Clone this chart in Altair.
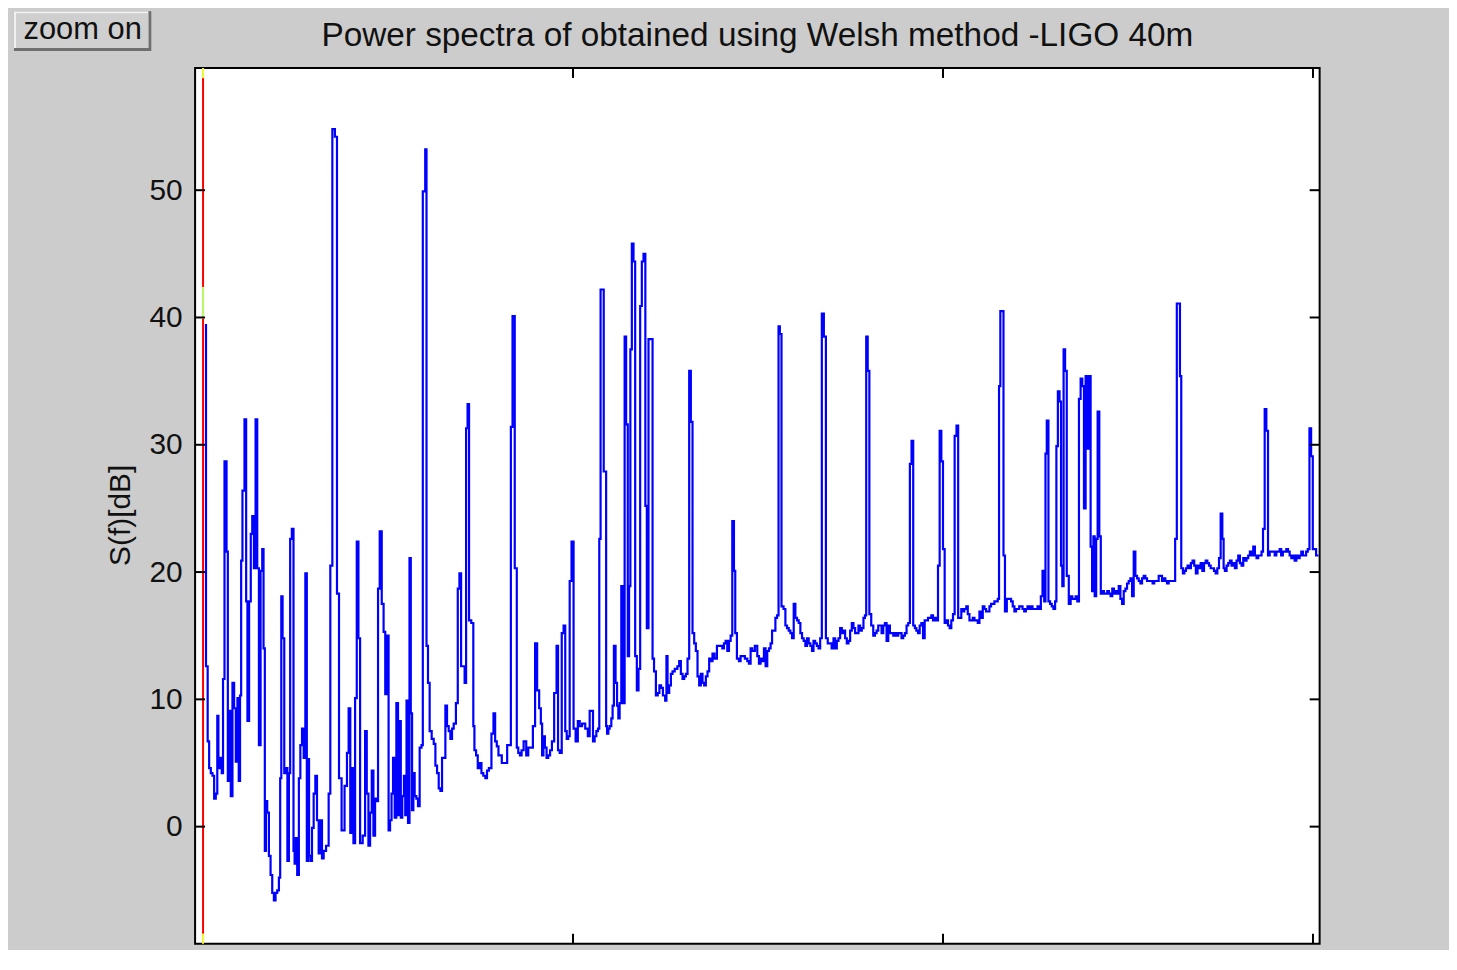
import altair as alt
import pandas as pd

# ---- data (frequency axis in Hz-like units, level in dB) ----
freq = [
    5, 11, 14, 19, 23, 28, 32, 37, 40, 43, 48, 53, 55, 61, 66, 68, 73, 77, 82, 86,
    91, 95, 98, 102, 104, 109, 115, 118, 122, 127, 131, 135, 140, 144, 149, 153, 158, 162, 165, 169,
    171, 176, 180, 185, 189, 194, 198, 203, 207, 210, 213, 217, 222, 226, 230, 234, 237, 243, 246, 249,
    252, 257, 261, 265, 270, 274, 279, 282, 285, 288, 292, 297, 301, 306, 310, 315, 319, 324, 328, 337,
    342, 346, 353, 360, 364, 371, 378, 387, 391, 396, 400, 404, 409, 413, 418, 422, 427, 436, 440, 445,
    449, 454, 458, 463, 467, 472, 474, 481, 485, 491, 494,
    500, 503, 508, 511, 516, 520, 525, 529, 533, 536, 541, 545, 548, 552, 556, 560, 563, 567, 570, 574,
    579, 583, 588, 593, 595, 599, 602, 606, 610, 615, 621, 626, 630, 635, 639, 644, 648, 653, 657, 662,
    666, 671, 675, 680, 687, 690, 696, 699, 705, 709, 713, 717, 721, 729, 732, 735, 741, 744, 750, 755,
    760, 766, 769, 776, 783, 787, 792, 796, 801, 805, 810, 814, 819, 825, 830, 834, 839, 846, 850, 854,
    859, 863, 870, 877, 881, 888, 895, 900, 906, 911, 915, 918, 922, 926, 931, 935, 941, 945, 953, 958,
    961, 967, 972, 977, 981, 985, 989, 993, 999, 1004, 1010, 1016, 1020, 1029, 1037,
    1043, 1047, 1052, 1056, 1061, 1065, 1070, 1072, 1077, 1081, 1085, 1089, 1090, 1094, 1097, 1101, 1106, 1108, 1113, 1117,
    1121, 1124, 1128, 1133, 1138, 1141, 1146, 1150, 1153, 1157, 1161, 1166, 1170, 1175, 1179, 1184, 1188, 1193, 1198, 1201,
    1207, 1213, 1217, 1221, 1227, 1231, 1236, 1240, 1246, 1252, 1253, 1258, 1262, 1267, 1271, 1279, 1285, 1289, 1294, 1298,
    1303, 1307, 1312, 1316, 1321, 1325, 1330, 1334, 1339, 1343, 1348, 1352, 1357, 1361, 1366, 1370, 1375, 1379, 1386, 1392,
    1397, 1401, 1406, 1410, 1415, 1419, 1424, 1428, 1433, 1437, 1440, 1446, 1451, 1455, 1460, 1469, 1473, 1478, 1482, 1487,
    1496, 1500, 1505, 1509, 1514, 1518, 1523, 1527, 1532, 1536, 1540, 1545,
    1549, 1554, 1557, 1561, 1566, 1572, 1576, 1581, 1585, 1590, 1594, 1599, 1603, 1608, 1612, 1617, 1621, 1626, 1630, 1635,
    1639, 1644, 1648, 1652, 1657, 1661, 1666, 1670, 1675, 1681, 1686, 1691, 1696, 1702, 1706, 1711, 1715, 1720, 1724, 1729,
    1733, 1738, 1742, 1747, 1751, 1756, 1760, 1765, 1769, 1774, 1778, 1783, 1787, 1791, 1794, 1799, 1803, 1809, 1814, 1818,
    1823, 1827, 1832, 1836, 1841, 1845, 1850, 1854, 1859, 1863, 1868, 1872, 1877, 1881, 1886, 1890, 1895, 1899, 1904, 1908,
    1913, 1917, 1922, 1926, 1930, 1935, 1939, 1944, 1948, 1953, 1957, 1962, 1966, 1971, 1975, 1980, 1984, 1989, 1993, 1998,
    2002, 2007, 2011, 2016, 2020, 2025, 2029, 2034, 2039, 2043, 2047, 2052, 2056, 2059,
    2061, 2065, 2069, 2074, 2078, 2083, 2087, 2092, 2096, 2101, 2105, 2110, 2114, 2119, 2123, 2128, 2132, 2137, 2141, 2146,
    2150, 2153, 2157, 2162, 2165, 2170, 2175, 2182, 2186, 2191, 2195, 2200, 2204, 2208, 2213, 2217, 2222, 2226, 2231, 2235,
    2240, 2244, 2249, 2253, 2258, 2262, 2267, 2271, 2276, 2278, 2283, 2287, 2292, 2296, 2301, 2305, 2308, 2313, 2317, 2321,
    2324, 2328, 2332, 2337, 2343, 2347, 2352, 2356, 2361, 2365, 2370, 2374, 2379, 2383, 2388, 2392, 2397, 2401, 2405, 2408,
    2412, 2416, 2420, 2425, 2428, 2433, 2437, 2442, 2446, 2451, 2455, 2460, 2464, 2469, 2473, 2477, 2482, 2486, 2491, 2495,
    2500, 2504, 2509, 2513, 2518, 2522, 2527, 2531, 2536, 2540, 2545, 2549, 2554, 2563, 2570,
    2572, 2576, 2581, 2585, 2590, 2594, 2599, 2603, 2608, 2612, 2616, 2621, 2625, 2630, 2634, 2639, 2642, 2646, 2651, 2654,
    2659, 2663, 2668, 2672, 2677, 2681, 2686, 2690, 2694, 2699, 2703, 2708, 2712, 2717, 2721, 2726, 2730, 2735, 2739, 2744,
    2748, 2753, 2757, 2760, 2764, 2769, 2773, 2778, 2782, 2787, 2791, 2796, 2800, 2805, 2809, 2814, 2818, 2823, 2827, 2832,
    2836, 2841, 2845, 2850, 2854, 2859, 2863, 2867, 2872, 2876, 2881, 2885, 2890, 2894, 2899, 2903, 2908, 2912, 2916, 2921,
    2926, 2930, 2935, 2939, 2944, 2948, 2953, 2957, 2962, 2966, 2971, 2975, 2979, 2984, 2988, 2993, 2997, 3002, 3006, 3011,
    3015,
]

sdb = [
    39.4, 12.6, 6.7, 4.6, 4.2, 4.0, 2.2, 2.6, 8.7, 4.6, 5.4, 4.2, 11.6, 28.7, 21.6, 3.6, 9.1, 2.4, 11.3, 9.3,
    5.1, 10.1, 3.6, 10.3, 20.9, 26.4, 32.0, 17.7, 8.3, 17.7, 23.0, 24.4, 20.3, 32.0, 20.3, 6.4, 20.1, 21.8, 14.0, -1.9,
    2.0, 1.1, -2.3, -3.8, -5.2, -5.8, -5.2, -5.0, -4.0, 3.8, 18.1, 14.8, 4.2, 4.6, -2.7, 4.2, 22.6, 23.4, -1.9, -2.9,
    -0.9, -3.8, 3.8, 6.4, 7.7, 5.4, 19.9, -2.7, 5.3, -2.3, -2.7, -0.1, 2.6, 4.0, 0.5, -2.1, 0.5, -2.5, -1.9, -1.5,
    2.6, 20.5, 54.8, 54.2, 18.3, 3.8, -0.3, 3.2, 5.8, 9.3, -0.5, 4.6, -1.3, 10.1, 22.4, 14.8, -1.3, -0.7, 7.5, 2.6,
    -1.5, 1.1, 4.4, -0.7, 2.2, 2.0, 18.7, 23.2, 17.5, 15.3, 10.4,
    15.0, -0.3, 0.5, 2.6, 5.4, 0.7, 9.7, 0.9, 8.3, 0.7, 2.4, 4.0, 0.9, 9.9, 0.3, 21.1, 8.9, 1.3, 4.2, 2.4,
    2.2, 1.6, 6.2, 6.4, 49.9, 49.9, 53.2, 14.2, 11.3, 7.5, 6.9, 6.5, 4.8, 4.2, 3.0, 2.8, 5.4, 5.4, 9.5, 7.9,
    7.5, 6.9, 7.7, 8.1, 9.7, 18.7, 19.9, 12.6, 12.6, 11.3, 31.3, 33.2, 16.2, 16.0, 7.9, 6.0, 5.6, 4.6, 5.0, 4.2,
    4.0, 3.8, 4.4, 4.6, 7.3, 8.9, 6.7, 6.3, 5.6, 5.6, 5.0, 5.0, 5.0, 6.4, 6.4, 31.4, 40.1, 20.3, 6.2, 5.8,
    5.6, 6.0, 6.7, 5.6, 6.2, 6.2, 7.9, 14.4, 10.7, 9.3, 8.1, 5.6, 7.1, 6.2, 5.4, 5.6, 6.0, 6.7, 10.5, 14.2,
    6.0, 5.8, 15.2, 15.8, 7.5, 6.9, 7.1, 19.3, 22.4, 7.7, 6.7, 8.3, 7.9, 8.1, 7.7,
    7.1, 9.1, 9.1, 6.7, 7.1, 7.5, 7.7, 22.6, 42.2, 42.2, 27.9, 27.9, 7.9, 7.3, 7.7, 7.9, 8.5, 9.5, 14.2, 11.3,
    9.5, 8.5, 9.7, 18.9, 9.7, 38.5, 31.6, 13.4, 18.9, 37.5, 45.8, 44.4, 13.4, 10.7, 12.4, 40.9, 44.4, 45.0, 25.2, 15.6,
    38.3, 38.3, 13.2, 12.2, 10.3, 10.5, 11.1, 10.9, 10.3, 9.9, 13.4, 10.5, 11.1, 12.0, 12.2, 12.4, 12.6, 13.0, 12.0, 11.6,
    11.8, 12.0, 13.2, 35.8, 31.8, 15.2, 14.4, 13.8, 11.8, 11.1, 12.0, 11.3, 11.1, 11.8, 12.2, 13.2, 13.0, 13.6, 13.2, 14.2,
    14.2, 14.2, 14.0, 14.4, 14.6, 13.8, 14.6, 15.0, 24.0, 20.1, 15.2, 13.2, 13.0, 13.4, 13.4, 13.2, 13.0, 12.8, 14.0, 13.8,
    14.2, 13.4, 12.8, 13.2, 13.0, 14.0, 12.6, 13.8, 14.0, 14.4, 15.4, 15.4,
    16.4, 16.6, 39.3, 38.7, 17.3, 17.1, 15.8, 15.6, 15.4, 15.2, 14.8, 17.5, 16.4, 16.2, 16.0, 15.2, 14.8, 14.6, 14.2, 14.8,
    14.4, 14.2, 13.8, 14.6, 14.4, 14.2, 14.0, 14.8, 40.3, 38.5, 14.8, 14.4, 14.4, 14.0, 14.8, 14.0, 14.6, 14.8, 15.6, 15.2,
    15.4, 14.8, 14.4, 14.6, 15.4, 16.0, 15.6, 15.2, 15.2, 15.8, 15.4, 15.6, 16.4, 16.6, 38.5, 35.8, 16.7, 15.8, 15.0, 15.2,
    15.4, 15.8, 15.8, 15.2, 15.8, 16.0, 14.6, 15.8, 15.2, 15.2, 15.0, 15.2, 15.0, 15.2, 15.2, 14.8, 15.0, 15.2, 15.8, 16.0,
    28.5, 30.3, 15.8, 15.6, 15.4, 15.2, 15.8, 16.0, 14.8, 16.2, 16.2, 16.4, 16.4, 16.6, 16.2, 16.4, 16.2, 20.5, 31.1, 28.7,
    21.8, 16.0, 16.2, 15.8, 15.6, 16.2, 16.7, 30.7, 31.5, 16.4, 16.4, 17.1, 16.9, 17.1,
    17.1, 17.3, 16.7, 16.2, 16.2, 16.4, 16.2, 16.2, 16.0, 16.9, 16.4, 17.3, 17.1, 16.9, 16.9, 17.3, 17.5, 17.5, 17.7, 17.7,
    17.9, 34.6, 40.5, 40.5, 21.3, 16.9, 17.9, 17.9, 17.7, 17.3, 16.9, 17.1, 17.1, 17.3, 17.3, 17.1, 16.9, 17.1, 17.3, 17.1,
    17.3, 17.1, 17.1, 17.1, 17.3, 17.1, 18.1, 20.1, 17.7, 29.3, 31.9, 17.7, 17.5, 17.3, 17.1, 17.7, 29.9, 34.2, 33.4, 20.5,
    18.9, 37.5, 35.8, 19.7, 17.5, 18.1, 17.9, 17.9, 18.1, 17.7, 33.6, 35.2, 34.6, 25.0, 35.4, 29.7, 35.4, 22.0, 18.5, 22.8,
    18.1, 22.6, 32.6, 22.8, 18.3, 18.5, 18.3, 18.3, 18.5, 18.3, 18.1, 18.7, 18.3, 18.5, 18.3, 18.9, 17.9, 17.5, 18.5, 18.7,
    19.1, 19.3, 19.5, 18.1, 21.6, 19.7, 19.5, 19.3, 19.1, 19.5, 19.7, 19.5, 19.3, 19.3, 19.1,
    19.3, 19.3, 19.3, 19.7, 19.7, 19.3, 19.5, 19.3, 19.1, 19.3, 19.3, 19.3, 19.3, 22.6, 41.1, 41.1, 35.4, 20.3, 19.9, 20.1,
    20.3, 20.5, 20.3, 20.7, 20.9, 20.5, 19.9, 20.5, 20.3, 20.7, 20.1, 20.7, 20.9, 20.7, 20.5, 20.3, 20.3, 20.1, 19.9, 20.3,
    21.1, 24.6, 22.6, 20.3, 20.1, 20.5, 20.7, 20.9, 20.5, 20.7, 20.3, 20.9, 21.3, 20.7, 20.5, 21.1, 20.9, 21.1, 21.3, 21.6,
    21.3, 22.0, 21.3, 21.1, 21.3, 21.3, 21.6, 23.4, 32.8, 31.1, 21.3, 21.6, 21.6, 21.6, 21.3, 21.6, 21.6, 21.8, 21.3, 21.6,
    21.6, 21.8, 21.6, 21.3, 21.1, 21.3, 20.9, 21.3, 21.1, 21.3, 21.6, 21.3, 21.3, 21.6, 21.8, 31.3, 29.1, 21.8, 21.8, 21.3,
    21.3,
]

y_ticks = [0, 10, 20, 30, 40, 50]
x_ticks = [1000, 2000, 3000]
cursor_f = [0]
seg_lo = [58.8, 39.9, -9.2]
seg_hi = [59.6, 42.4, -8.4]
seg_col = ["#e8ff3a", "#b6ff6a", "#e8ff3a"]

TITLE = "Power spectra of obtained using Welsh method -LIGO 40m"
YLABEL = "S(f)[dB]"
BUTTON = "zoom on"

W, H = 1130, 880
FONT = "Liberation Sans"

spec = pd.DataFrame({"f": freq, "S": sdb})
ydf = pd.DataFrame({"S": y_ticks})
xdf = pd.DataFrame({"f": x_ticks})
cdf = pd.DataFrame({"f": cursor_f})
sdf = pd.DataFrame({"f": [0, 0, 0], "S": seg_lo, "S2": seg_hi, "c": seg_col})

xs = alt.Scale(domain=[-21.5, 3018], nice=False, zero=False)
ys = alt.Scale(domain=[-9.2, 59.6], nice=False, zero=False)

yaxis = alt.Axis(
    values=y_ticks, ticks=False, domain=False, grid=False,
    labelFont=FONT, labelFontSize=30, labelColor="#111", labelPadding=13,
    title=YLABEL, titleFont=FONT, titleFontSize=30, titleFontWeight="normal",
    titleColor="#111", titleX=-75, titleY=449, titleAngle=270,
    titleAlign="center", titleBaseline="middle",
)

X = alt.X("f:Q", scale=xs, axis=None)
Y = alt.Y("S:Q", scale=ys, axis=yaxis)

line = alt.Chart(spec).mark_line(
    color="#0000ff", strokeWidth=2.2, interpolate="step"
).encode(x=X, y=Y)

cursor = alt.Chart(cdf).mark_rule(color="#ff0000", strokeWidth=2).encode(x=X)

segs = alt.Chart(sdf).mark_rule(strokeWidth=2).encode(
    x=X, y=Y, y2="S2:Q", color=alt.Color("c:N", scale=None)
)

tick_style = dict(color="black", strokeWidth=2)
yt_left = alt.Chart(ydf).mark_rule(**tick_style).encode(y=Y, x=alt.value(0), x2=alt.value(10))
yt_right = alt.Chart(ydf).mark_rule(**tick_style).encode(y=Y, x=alt.value(W - 10), x2=alt.value(W))
xt_bot = alt.Chart(xdf).mark_rule(**tick_style).encode(x=X, y=alt.value(H - 10), y2=alt.value(H))
xt_top = alt.Chart(xdf).mark_rule(**tick_style).encode(x=X, y=alt.value(0), y2=alt.value(10))

title = alt.Chart(pd.DataFrame({"t": [TITLE]})).mark_text(
    font=FONT, fontSize=33.5, color="#111", align="center", baseline="alphabetic"
).encode(text="t:N", x=alt.value(W / 2), y=alt.value(-22))

bdf = pd.DataFrame({"t": [BUTTON]})
btn_dark = alt.Chart(bdf).mark_rect(color="#6e6e6e").encode(
    x=alt.value(-182), x2=alt.value(-44), y=alt.value(-57), y2=alt.value(-17))
btn_light = alt.Chart(bdf).mark_rect(color="#f2f2f2").encode(
    x=alt.value(-182), x2=alt.value(-47), y=alt.value(-57), y2=alt.value(-20))
btn_face = alt.Chart(bdf).mark_rect(color="#cfcfcf").encode(
    x=alt.value(-180), x2=alt.value(-47), y=alt.value(-55), y2=alt.value(-20))
btn_text = alt.Chart(bdf).mark_text(
    font=FONT, fontSize=31, color="#111", align="center", baseline="alphabetic"
).encode(text="t:N", x=alt.value(-113), y=alt.value(-29))

chart = alt.layer(
    line, cursor, segs, yt_left, yt_right, xt_bot, xt_top,
    title, btn_dark, btn_light, btn_face, btn_text,
).properties(
    width=W, height=H, background="#cccccc",
    padding={"left": 188, "top": 58, "right": 130, "bottom": 4},
    autosize=alt.AutoSizeParams(type="none"),
).configure_view(
    fill="white", stroke="black", strokeWidth=2
)

chart.save("out.html", embed_options={"renderer": "svg", "actions": False})
